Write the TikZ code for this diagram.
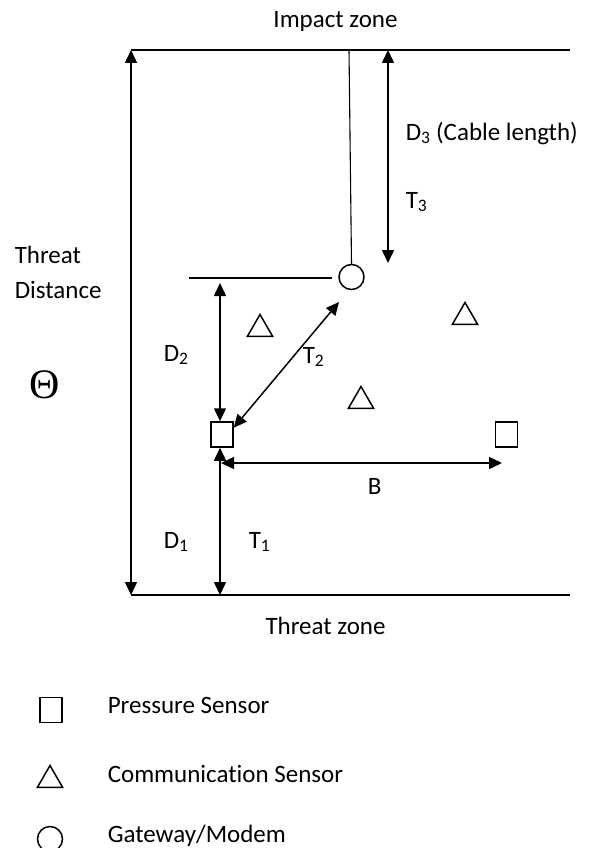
\documentclass[tikz,border=0pt]{standalone}
\usepackage{fontspec}
\setmainfont{Carlito}[Ligatures=NoCommon]
\newfontfamily\thetafont{Liberation Serif}
\usetikzlibrary{arrows.meta, shapes.geometric}

\begin{document}
\begin{tikzpicture}[x=1pt, y=-1pt, line width=1.5pt,
  >={Triangle[length=13pt, width=12pt]},
  font=\fontsize{25}{30}\selectfont,
  lbl/.style={inner sep=0pt, anchor=base west},
  pres/.style={draw, minimum width=22pt, minimum height=25pt, inner sep=0pt},
  comm/.style={draw, regular polygon, regular polygon sides=3, minimum size=29pt, inner sep=0pt},
  gate/.style={draw, circle, minimum size=25pt, inner sep=0pt}]
\useasboundingbox (0,0) rectangle (595,848);
\coordinate (topL) at (131,50);
\coordinate (topR) at (570,50);
\coordinate (botL) at (131,595);
\coordinate (botR) at (570,595);
\draw (topL) -- (topR);
\draw (botL) -- (botR);
\draw[<->] (topL) -- (botL);
\node[gate] (gw) at (351.5,277) {};
\node[pres] (ps1) at (222,434.5) {};
\node[pres] (ps2) at (506.5,434.5) {};
\node[comm] (cs1) at (260,329) {};
\node[comm] (cs2) at (465,317) {};
\node[comm] (cs3) at (361,401) {};
\coordinate (cab) at (349,50);
\draw[line width=1.1pt] (cab) -- (gw.north);
\coordinate (d3t) at (388,50);
\coordinate (d3b) at (388,263);
\draw[<->] (d3t) -- (d3b);
\coordinate (hl) at (189,278);
\coordinate (hr) at (332,278);
\draw (hl) -- (hr);
\coordinate (d2t) at (220,283);
\draw[<->] (d2t) -- (d2t |- ps1.north);
\coordinate (t1b) at (220,595);
\draw[<->] (t1b |- ps1.south) -- (t1b);
\coordinate (bl) at (221,463);
\coordinate (br) at (502,463);
\draw[<->] (bl) -- (br);
\coordinate (t2e) at (339,302);
\draw[<->] (ps1.30) -- (t2e);
\node[lbl, anchor=base] (impact) at (335.5,28) {Impact zone};
\node[lbl, anchor=base] (threatzone) at (325.5,634) {Threat zone};
\node[lbl] (threat) at (14,263) {Threat};
\node[lbl] (dist) at (14,298) {Distance};
\node[lbl, font=\thetafont\fontsize{42}{42}\selectfont] (theta) at (29,398) {Θ};
\node[lbl] (d3) at (405,140) {D\textsubscript{3} (Cable length)};
\node[lbl] (t3) at (405,208) {T\textsubscript{3}};
\node[lbl] (d2) at (163,361) {D\textsubscript{2}};
\node[lbl] (t2) at (302,363) {T\textsubscript{2}};
\node[lbl] (b) at (367,494) {B};
\node[lbl] (d1) at (163,548) {D\textsubscript{1}};
\node[lbl] (t1) at (248,548) {T\textsubscript{1}};
\node[pres] (keyp) at (51,710) {};
\node[comm] (keyc) at (50,780) {};
\node[gate] (keyg) at (50,839) {};
\node[lbl] (keyptext) at (107,713) {Pressure Sensor};
\node[lbl] (keyctext) at (107,782) {Communication Sensor};
\node[lbl] (keygtext) at (107,842) {Gateway/Modem};
\end{tikzpicture}
\end{document}
